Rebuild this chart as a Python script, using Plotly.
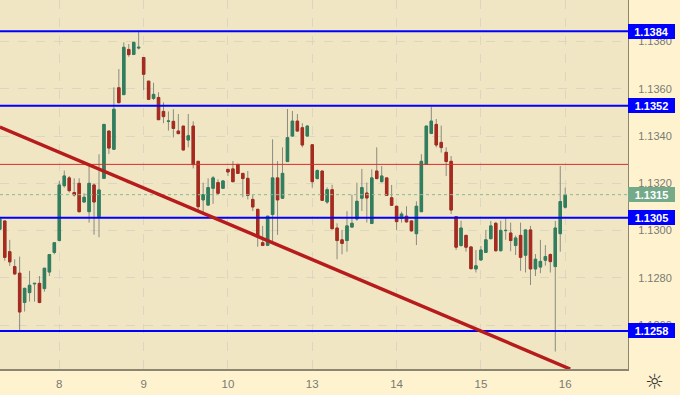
import numpy as np
import plotly.graph_objects as go

# prices are stored as pips above BASE
BASE = 1.13
PIP = 0.0001
index = list(range(-12, 103))

highs = [4.9,4.1,-3.9,-12.1,-11.0,-24.2,-17.0,-22.3,-19.2,-15.9,-10.0,-5.1,
 21.0,25.4,23.1,22.1,22.1,15.8,28.2,20.0,32.3,45.1,42.1,60.6,68.3,79.6,78.9,79.6,83.9,
 73.2,63.2,62.5,58.5,54.2,50.4,51.3,49.3,44.2,49.3,46.2,29.3,20.3,22.1,23.1,21.7,21.4,
 25.9,29.4,28.2,24.2,25.2,15.1,9.2,2.0,6.2,38.6,29.4,35.2,51.4,50.6,49.3,45.4,44.6,
 36.5,25.9,25.2,18.3,19.4,3.1,0.3,8.2,15.2,20.3,26.1,20.3,25.9,35.2,27.3,22.3,19.3,
 10.4,8.0,10.3,4.2,12.4,32.3,44.2,52.4,47.2,44.4,35.2,31.5,6.2,4.2,-1.8,-6.8,-8.2,
 -6.5,0.3,4.1,3.7,4.2,5.5,3.4,-2.1,3.4,0.3,2.0,-9.9,-3.9,-6.1,-9.6,4.1,27.3,18.2]
lows = [0.6,-12.7,-14.9,-18.7,-42.3,-34.2,-30.0,-30.0,-30.7,-25.8,-19.2,-10.0,
 -4.2,18.2,16.1,14.4,7.7,11.8,3.4,-1.7,-2.8,22.1,32.4,34.1,53.8,57.3,73.5,74.2,76.6,
 59.4,55.2,55.2,46.8,45.4,42.3,39.4,40.8,33.8,35.2,26.3,8.5,6.6,10.6,11.3,15.5,17.6,
 23.1,20.4,23.9,14.1,13.2,8.3,-6.8,-6.5,-6.3,-5.4,-1.8,13.4,29.0,39.7,41.8,35.2,39.7,
 18.2,21.7,12.5,11.3,0.7,-12.1,-10.0,-8.9,1.4,4.2,8.3,3.4,2.8,21.7,20.4,14.6,10.4,
 0.3,3.4,3.4,-0.4,-6.1,7.9,27.9,40.8,35.2,33.0,23.1,7.0,-8.2,-6.8,-8.9,-16.3,-17.7,
 -12.7,-9.3,-3.7,-8.9,-8.7,-3.9,-8.7,-10.3,-17.0,-17.7,-23.0,-19.2,-18.0,-14.8,-17.7,-51.1,-8.9,9.3]
opens = [0.6,4.1,-8.9,-15.2,-18.0,-30.4,-26.2,-22.5,-22.3,-24.5,-17.5,-9.2,
 -4.2,19.0,22.3,16.1,20.0,12.1,8.0,19.3,5.9,22.1,42.1,34.4,60.4,57.5,76.6,74.5,77.2,
 73.2,63.2,55.9,56.3,50.4,46.2,46.2,42.1,44.2,38.3,44.2,29.3,13.0,10.8,17.9,20.3,17.9,
 25.9,26.1,28.0,24.2,22.1,13.2,9.0,-5.1,-6.2,6.8,22.3,13.7,29.2,40.0,46.3,43.5,40.0,
 36.3,22.0,25.2,12.1,17.3,1.1,-3.9,-4.2,1.5,4.9,13.7,15.9,3.0,25.2,20.7,22.3,13.9,
 10.3,5.2,6.1,4.1,-1.3,8.0,28.0,41.1,44.9,37.3,33.1,29.3,5.9,-6.3,-2.0,-6.9,-16.2,
 -12.4,-9.2,-3.4,3.1,-8.5,0.0,-1.0,-6.3,-2.0,-10.4,0.3,-16.2,-15.4,-12.5,-10.1,-15.2,-1.3,9.9]
closes = [4.9,-11.3,-13.2,-18.3,-34.4,-24.4,-23.1,-22.3,-30.4,-15.9,-10.1,-5.1,
 19.3,23.1,16.9,15.1,8.0,14.1,20.0,12.1,17.2,44.9,34.9,51.3,54.1,77.5,74.4,79.6,77.5,
 66.1,55.5,57.6,46.9,48.2,46.3,43.2,41.0,34.1,40.1,27.9,10.1,15.2,18.2,22.3,15.8,21.0,
 24.8,20.7,24.2,22.0,14.9,10.0,-2.3,-6.3,6.1,22.3,13.0,24.2,39.3,46.3,42.1,36.2,44.2,
 20.7,25.4,12.8,17.3,0.8,-4.2,-5.4,2.0,3.1,12.4,18.2,13.8,22.3,22.0,23.1,14.9,10.7,
 3.8,7.0,3.7,-0.1,10.3,29.3,44.2,46.3,36.2,35.1,29.2,8.7,-7.0,1.1,-7.0,-16.1,-14.9,
 -8.2,-3.9,2.0,-8.5,0.1,0.1,-4.2,-3.1,-11.3,0.3,-16.2,-12.1,-13.0,-11.0,-13.1,1.1,12.3,15.2]

day_index = [0, 17, 34, 51, 68, 85, 102]
day_labels = ["8", "9", "10", "13", "14", "15", "16"]
price_ticks = [1.126, 1.128, 1.130, 1.132, 1.134, 1.136, 1.138]
levels = [1.13843, 1.13528, 1.13054, 1.12576]
level_labels = ["1.1384", "1.1352", "1.1305", "1.1258"]
resistance = 1.1328
last_price = 1.13152
last_label = "1.1315"
trend_index = [-12, 103]
trend_price = [1.13438, 1.12415]

def price(values):
    return BASE + np.array(values) * PIP

o, h, l, c = price(opens), price(highs), price(lows), price(closes)
body_hi, body_lo = np.maximum(o, c), np.minimum(o, c)

GREEN = "#2F7F5F"
RED = "#A82A1E"
WICK = "#8A8A80"
BG = "#F0E6C4"
PANEL = "#FFF3CF"
AXIS = "#8C8670"
TEXT = "#7A7A72"
BLUE = "#0000FF"

fig = go.Figure()
# grey wicks
fig.add_trace(go.Candlestick(
    x=index, open=o, high=h, low=l, close=c,
    increasing=dict(line=dict(color=WICK, width=1), fillcolor=GREEN),
    decreasing=dict(line=dict(color=WICK, width=1), fillcolor=RED),
    hoverinfo="skip", showlegend=False))
# coloured bodies on top
fig.add_trace(go.Candlestick(
    x=index, open=o, high=body_hi, low=body_lo, close=c,
    increasing=dict(line=dict(color=GREEN, width=1), fillcolor=GREEN),
    decreasing=dict(line=dict(color=RED, width=1), fillcolor=RED),
    hoverinfo="skip", showlegend=False))

x_span = [-11.96, 114.66]
fig.add_trace(go.Scatter(x=x_span, y=[last_price]*2, mode="lines",
    line=dict(color="#8DB795", width=1, dash="dot"), showlegend=False, hoverinfo="skip"))
fig.add_trace(go.Scatter(x=x_span, y=[resistance]*2, mode="lines",
    line=dict(color="#E02A2A", width=1), showlegend=False, hoverinfo="skip"))
for lv in levels:
    fig.add_trace(go.Scatter(x=x_span, y=[lv]*2, mode="lines",
        line=dict(color=BLUE, width=2), showlegend=False, hoverinfo="skip"))
fig.add_trace(go.Scatter(x=trend_index, y=trend_price, mode="lines",
    line=dict(color="#B71C1C", width=3.5), showlegend=False, hoverinfo="skip"))

annotations = []
for lv, txt in zip(levels, level_labels):
    annotations.append(dict(x=1, xref="paper", y=lv, yref="y", xanchor="left", yanchor="middle",
        text="<b>%s</b>" % txt, showarrow=False, bgcolor=BLUE, width=47, height=15,
        font=dict(family="Liberation Sans", size=11, color="white"), borderpad=0, borderwidth=0))
annotations.append(dict(x=1, xref="paper", y=last_price, yref="y", xanchor="left", yanchor="middle",
    text="<b>%s</b>" % last_label, showarrow=False, bgcolor="#74A98A", width=47, height=15,
    font=dict(family="Liberation Sans", size=11, color="white"), borderpad=0, borderwidth=0))
annotations.append(dict(x=1, xref="paper", xshift=26, xanchor="center",
    y=0, yref="paper", yshift=-13, yanchor="middle", text="☼", showarrow=False,
    font=dict(family="DejaVu Sans", size=21, color="#333333")))

fig.update_layout(
    width=680, height=395, autosize=False,
    margin=dict(l=0, r=52, t=0, b=26),
    paper_bgcolor=PANEL, plot_bgcolor=BG, showlegend=False,
    annotations=annotations,
    font=dict(family="Liberation Sans", size=11, color=TEXT),
    xaxis=dict(range=x_span, rangeslider=dict(visible=False), tickmode="array",
        tickvals=day_index, ticktext=day_labels, showgrid=True,
        gridcolor="#DAD6C2", griddash="dash", gridwidth=1,
        showline=True, linecolor=AXIS, linewidth=2, ticks="outside", ticklen=3,
        tickcolor="rgba(0,0,0,0)", zeroline=False,
        tickfont=dict(size=11.5, color=TEXT)),
    yaxis=dict(range=[1.12415, 1.13975], side="right", tickmode="array",
        tickvals=price_ticks, tickformat=".4f", showgrid=True,
        gridcolor="#DAD6C2", griddash="dash", gridwidth=1,
        showline=True, linecolor=AXIS, linewidth=1, ticks="outside", ticklen=7,
        tickcolor="rgba(0,0,0,0)", zeroline=False,
        tickfont=dict(size=11, color=TEXT)),
)
assert len(index) == len(opens) == len(highs) == len(lows) == len(closes)
fig.write_html("out.html", config=dict(displayModeBar=False),
    post_script="document.body.style.margin='0';document.documentElement.style.overflow='hidden';")
